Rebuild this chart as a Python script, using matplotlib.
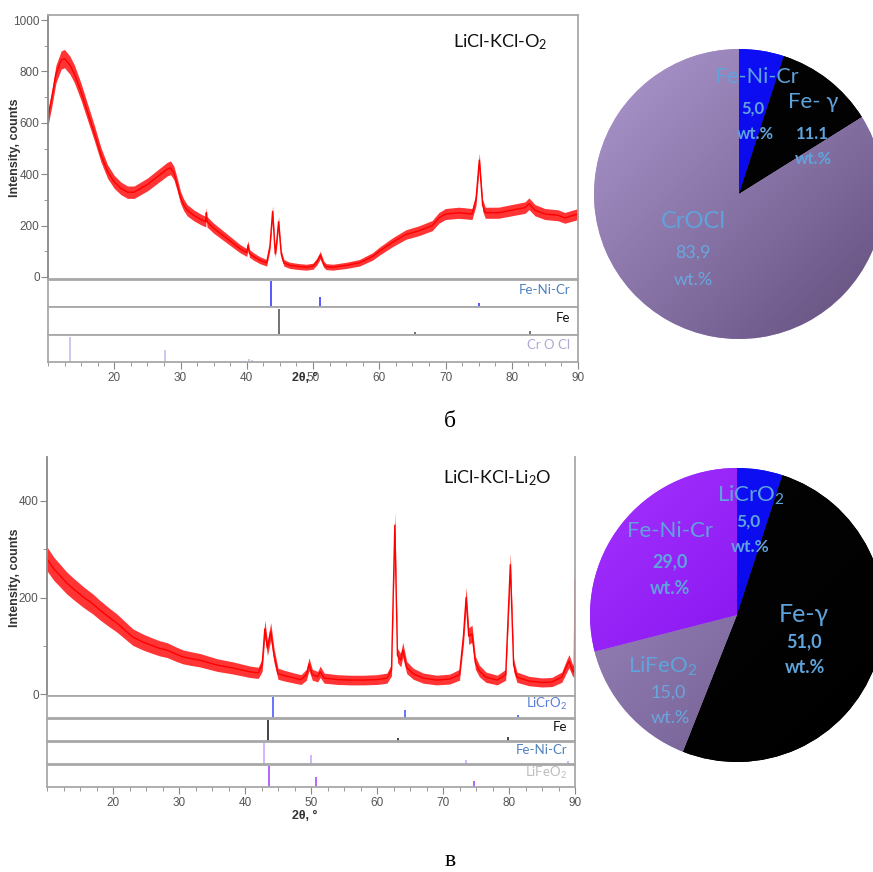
import numpy as np
import matplotlib.pyplot as plt
from matplotlib.colors import LinearSegmentedColormap
from matplotlib.ticker import MultipleLocator

plt.rcParams['mathtext.fontset'] = 'custom'
plt.rcParams['mathtext.rm'] = 'Lato'
plt.rcParams['mathtext.it'] = 'Lato:italic'
plt.rcParams['mathtext.bf'] = 'Lato:bold'

# --- XRD pattern, LiCl-KCl-O2 melt (2theta, counts) ---
tt_o2 = [10.0, 10.6, 11.2, 12.0, 12.5, 13.3, 14.0, 15.0, 16.0, 17.0, 18.0, 19.0,
         20.0, 21.0, 22.0, 23.0, 24.0, 25.0, 26.0, 27.0, 28.0, 28.5, 29.0, 29.5,
         30.0, 30.5, 31.0, 32.0, 33.0, 33.8, 33.9, 34.0, 35.0, 36.0, 37.0, 38.0,
         39.0, 40.0, 40.2, 40.4, 41.0, 42.0, 43.0, 43.5, 43.9, 44.3, 44.5, 44.8,
         45.2, 45.6, 46.5, 48.0, 49.0, 50.0, 50.6, 51.1, 51.6, 52.0, 53.0, 55.0,
         57.0, 59.0, 60.0, 62.0, 64.0, 66.0, 68.0, 69.0, 70.0, 72.0, 74.0, 74.6,
         75.1, 75.6, 76.0, 78.0, 80.0, 82.0, 82.6, 83.5, 85.0, 87.0, 88.0, 90.0]
int_o2 = [620, 700, 790, 845, 850, 825, 790, 720, 640, 560, 475, 410,
          370, 345, 330, 330, 345, 360, 380, 400, 420, 425, 405, 360,
          310, 280, 260, 240, 225, 215, 250, 215, 190, 170, 150, 130,
          110, 95, 125, 92, 80, 65, 55, 120, 255, 90, 130, 215,
          90, 55, 45, 40, 38, 42, 60, 85, 50, 40, 38, 45,
          55, 80, 100, 135, 165, 180, 200, 230, 245, 250, 245, 300,
          455, 280, 250, 250, 260, 270, 285, 260, 245, 240, 230, 245]

# reference sticks for the O2 sample (position, relative height)
fenicr_o2_pos = [43.7, 51.0, 75.1]
fenicr_o2_h = [0.95, 0.38, 0.14]
fe_o2_pos = [44.8, 65.4, 82.7]
fe_o2_h = [0.92, 0.11, 0.14]
crocl_pos = [13.3, 21.3, 27.6, 36.5, 40.4, 40.8, 49.4]
crocl_h = [0.91, 0.05, 0.44, 0.05, 0.10, 0.07, 0.05]

# --- XRD pattern, LiCl-KCl-Li2O melt ---
tt_li2o = [10.0, 10.5, 11.0, 12.0, 13.0, 14.0, 15.5, 17.0, 18.0, 19.5, 20.6, 22.0,
           23.0, 24.5, 25.6, 27.0, 28.2, 29.5, 30.6, 32.0, 33.2, 34.5, 35.8, 37.0,
           38.2, 39.5, 40.8, 42.0, 42.6, 43.0, 43.4, 43.9, 44.4, 45.0, 46.0, 47.5,
           48.5, 49.3, 49.7, 50.2, 51.0, 51.4, 52.0, 54.0, 56.0, 58.0, 60.0, 61.5,
           62.2, 62.7, 63.1, 63.6, 63.9, 64.5, 65.5, 67.0, 69.0, 71.0, 72.5, 73.1,
           73.5, 73.9, 74.4, 74.9, 75.5, 76.5, 78.2, 79.5, 80.2, 80.7, 81.2, 83.0,
           85.0, 86.5, 88.0, 88.8, 89.1, 89.6, 89.9, 90.0]
int_li2o = [280, 270, 260, 245, 230, 218, 201, 186, 174, 158, 147, 130,
            118, 108, 102, 95, 91, 83, 77, 73, 70, 65, 60, 57,
            54, 50, 46, 44, 60, 135, 95, 130, 80, 42, 38, 33,
            30, 40, 62, 40, 36, 46, 33, 30, 29, 29, 30, 33,
            50, 350, 80, 70, 92, 55, 42, 33, 29, 31, 40, 120,
            200, 120, 125, 65, 48, 35, 29, 40, 268, 60, 35, 27,
            24, 25, 35, 60, 68, 50, 45, 236]

licro2_pos = [44.2, 64.2, 81.3]
licro2_h = [0.95, 0.38, 0.12]
fe_li_pos = [43.5, 63.2, 79.9]
fe_li_h = [0.95, 0.12, 0.18]
fenicr_li_pos = [42.9, 50.0, 73.5, 89.0]
fenicr_li_h = [0.94, 0.41, 0.18, 0.15]
lifeo2_pos = [43.6, 50.8, 74.7]
lifeo2_h = [0.94, 0.45, 0.26]

# --- phase composition, wt.% ---
o2_phases = ['Fe-Ni-Cr', 'Fe-γ', 'CrOCl']
o2_wt = [5.0, 11.1, 83.9]
li2o_phases = ['LiCrO2', 'Fe-γ', 'LiFeO2', 'Fe-Ni-Cr']
li2o_wt = [5.0, 51.0, 15.0, 29.0]

W, H = 873, 872
fig = plt.figure(figsize=(W / 100, H / 100), dpi=100)

GRID = '#a8a8a8'
TICK = '#555555'
LBL = '#5fa3dc'


def box(x0, y0, x1, y1):
    return fig.add_axes([x0 / W, 1 - y1 / H, (x1 - x0) / W, (y1 - y0) / H])


def ftext(x, y, s, **kw):
    kw.setdefault('ha', 'center')
    kw.setdefault('va', 'center')
    fig.text(x / W, 1 - y / H, s, **kw)


def frame(ax, color=GRID, lw=1.3):
    for sp in ax.spines.values():
        sp.set_color(color)
        sp.set_linewidth(lw)


def xrd(main_px, tt, inten, ylim, ymax_tick, noise, panels, top_frame):
    ax = box(*main_px)
    tt = np.asarray(tt)
    inten = np.asarray(inten, dtype=float)
    half = noise[0] * np.sqrt(inten) + noise[1]
    ax.fill_between(tt, inten - half, inten + half, color='#ff1010', lw=0, alpha=0.85)
    ax.plot(tt, inten, color='#ff0000', lw=1.0)
    ax.set_xlim(10, 90)
    ax.set_ylim(*ylim)
    ax.set_xticks([])
    ax.yaxis.set_minor_locator(MultipleLocator(100))
    ax.set_yticks(np.arange(0, ymax_tick + 1, 200))
    ax.tick_params(axis='y', which='major', length=5, color='#888888', labelcolor=TICK,
                   labelsize=8.5, pad=1)
    ax.tick_params(axis='y', which='minor', length=3, color='#888888')
    for lab in ax.get_yticklabels():
        lab.set_family('Liberation Sans')
    frame(ax)
    ax.spines['left'].set_color('#888888')
    if not top_frame:
        ax.spines['top'].set_visible(False)

    sub = None
    for (px, pos, h, col, name, tcol) in panels:
        sub = box(*px)
        sub.vlines(pos, 0, h, colors=col, lw=1.2)
        sub.set_xlim(10, 90)
        sub.set_ylim(0, 1)
        sub.set_xticks([])
        sub.set_yticks([])
        frame(sub)
        sub.text(0.985, 0.62, name, transform=sub.transAxes, ha='right', va='center',
                 color=tcol, fontsize=9.5, family='Lato')
    sub.set_xticks(range(20, 91, 10))
    sub.xaxis.set_minor_locator(MultipleLocator(2.5))
    sub.tick_params(axis='x', which='major', length=5, color='#888888', labelcolor=TICK,
                    labelsize=8.5, pad=2)
    sub.tick_params(axis='x', which='minor', length=3, color='#888888')
    for lab in sub.get_xticklabels():
        lab.set_family('Liberation Sans')
    return ax


# top block: LiCl-KCl-O2
xrd((48, 15, 578, 279), tt_o2, int_o2, (-8, 1020), 1000, (1.05, 5),
    [((48, 280, 578, 307), fenicr_o2_pos, fenicr_o2_h, '#3b3bff', 'Fe-Ni-Cr', '#4f81bd'),
     ((48, 307, 578, 335), fe_o2_pos, fe_o2_h, '#5a5a5a', 'Fe', '#111111'),
     ((48, 335, 578, 362), crocl_pos, crocl_h, '#cbbcec', 'Cr O Cl', '#b4a7d6')],
    True)
ftext(500, 42, 'LiCl-KCl-O$_2$', fontsize=13, family='Lato', color='#111111')
ftext(15, 148, 'Intensity, counts', rotation=90, fontsize=9, fontweight='bold',
      family='Liberation Sans', color='#333333')
ftext(305, 378, '2θ, °', fontsize=9, fontweight='bold', family='Liberation Sans',
      color='#333333')

# bottom block: LiCl-KCl-Li2O
xrd((47, 457, 575, 696), tt_li2o, int_li2o, (-4, 491), 400, (1.3, 3),
    [((47, 696, 575, 718), licro2_pos, licro2_h, '#4b5bff', 'LiCrO$_2$', '#5a7fd6'),
     ((47, 719, 575, 741), fe_li_pos, fe_li_h, '#222222', 'Fe', '#111111'),
     ((47, 742, 575, 764), fenicr_li_pos, fenicr_li_h, '#cba8ff', 'Fe-Ni-Cr', '#4f81bd'),
     ((47, 765, 575, 787), lifeo2_pos, lifeo2_h, '#a64dff', 'LiFeO$_2$', '#bdbdbd')],
    False)
ftext(497, 478, 'LiCl-KCl-Li$_2$O', fontsize=13, family='Lato', color='#111111')
ftext(15, 578, 'Intensity, counts', rotation=90, fontsize=9, fontweight='bold',
      family='Liberation Sans', color='#333333')
ftext(305, 816, '2θ, °', fontsize=9, fontweight='bold', family='Liberation Sans',
      color='#333333')

# panel letters
ftext(450, 421, 'б', fontsize=17, family='Liberation Serif')
ftext(450, 860, 'в', fontsize=17, family='Liberation Serif')

# shading ramp for the pie wedges (light top-left, dark bottom-right)
gx, gy = np.meshgrid(np.linspace(0, 1, 200), np.linspace(0, 1, 200))
ramp = (gx + (1 - gy)) / 2


def pie(cx, cy, r, wt, shades):
    ax = box(cx - r, cy - r, cx + r, cy + r)
    wedges, _ = ax.pie(wt, colors=[s[0] for s in shades], startangle=90,
                       counterclock=False, radius=1, wedgeprops=dict(linewidth=0))
    for w, (c1, c2) in zip(wedges, shades):
        cmap = LinearSegmentedColormap.from_list('shade', [c1, c2])
        im = ax.imshow(ramp, extent=(-1, 1, -1, 1), origin='lower', cmap=cmap,
                       zorder=w.get_zorder() + 0.1)
        im.set_clip_path(w)
    ax.set_xlim(-1, 1)
    ax.set_ylim(-1, 1)
    ax.axis('off')


pie(739, 194, 145, o2_wt,
    [('#1414ff', '#0000d8'), ('#050505', '#000000'), ('#ae99d0', '#624e7c')])
pie(737, 615, 147, li2o_wt,
    [('#1414ff', '#0000d8'), ('#050505', '#000000'), ('#a28dc4', '#665384'),
     ('#a433ff', '#7600e4')])

fam = ['Lato', 'DejaVu Sans']
# O2 pie labels
ftext(757, 77, o2_phases[0], fontsize=15.5, family=fam, color=LBL)
ftext(753, 109, '5,0', fontsize=12, family=fam, fontweight='bold', color=LBL)
ftext(755, 134, 'wt.%', fontsize=12, family=fam, fontweight='bold', color=LBL)
ftext(813, 102, 'Fe- γ', fontsize=16, family=fam, color=LBL)
ftext(812, 134, '11.1', fontsize=12, family=fam, fontweight='bold', color=LBL)
ftext(813, 159, 'wt.%', fontsize=12, family=fam, fontweight='bold', color=LBL)
ftext(693, 222, o2_phases[2], fontsize=17, family=fam, color=LBL)
ftext(693, 253, '83,9', fontsize=13, family=fam, color='#6aa6de')
ftext(693, 280, 'wt.%', fontsize=13, family=fam, color='#6aa6de')

# Li2O pie labels
ftext(751, 495, 'LiCrO$_2$', fontsize=16, family=fam, color=LBL)
ftext(748, 522, '5,0', fontsize=12.5, family=fam, fontweight='bold', color=LBL)
ftext(750, 547, 'wt.%', fontsize=12.5, family=fam, fontweight='bold', color=LBL)
ftext(670, 531, li2o_phases[3], fontsize=16, family=fam, color=LBL)
ftext(670, 562, '29,0', fontsize=13, family=fam, fontweight='bold', color=LBL)
ftext(670, 588, 'wt.%', fontsize=13, family=fam, fontweight='bold', color=LBL)
ftext(804, 614, 'Fe-γ', fontsize=18, family=fam, color=LBL)
ftext(804, 642, '51,0', fontsize=13, family=fam, fontweight='bold', color=LBL)
ftext(805, 667, 'wt.%', fontsize=13, family=fam, fontweight='bold', color=LBL)
ftext(663, 666, 'LiFeO$_2$', fontsize=16, family=fam, color=LBL)
ftext(668, 693, '15,0', fontsize=13, family=fam, color='#6aa6de')
ftext(670, 718, 'wt.%', fontsize=13, family=fam, color='#6aa6de')

fig.savefig('out.png', dpi=100)
